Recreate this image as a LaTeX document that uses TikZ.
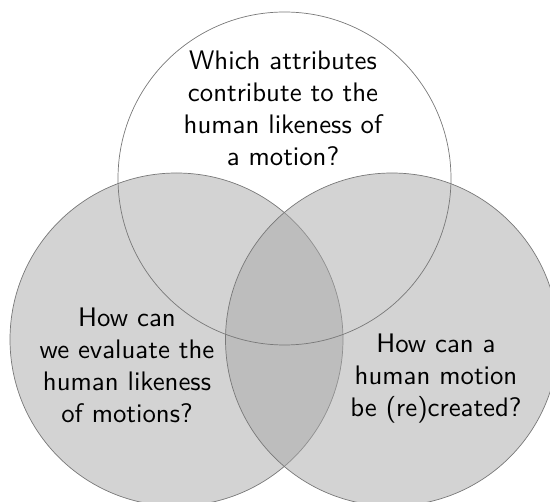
\documentclass[tikz,border=0pt]{standalone}
\usepackage{graphicx}
\newcommand{\qlines}[1]{\scalebox{2.68}{\sffamily\fontsize{10}{11.9}\selectfont\begin{tabular}{@{}c@{}}#1\end{tabular}}}
\begin{document}
\begin{tikzpicture}[x=1pt,y=-1pt,
  venn/.style={circle, draw={rgb,255:red,120;green,120;blue,120}, line width=0.7pt, minimum size=333pt, inner sep=0pt},
  vennfill/.style={venn, fill={rgb,255:red,167;green,167;blue,167}, fill opacity=0.5},
  qtext/.style={inner sep=0pt, text=black}]
\useasboundingbox (0,0) rectangle (550,502);
\node[vennfill] (left) at (176.5,339.5) {};
\node[vennfill] (right) at (392,339.5) {};
\node[venn] (top) at (284.5,178.5) {};
\node[qtext] (ttop) at (283,111) {\qlines{Which attributes\\contribute to the\\human likeness of\\a motion?}};
\node[qtext] (tleft) at (127,368) {\qlines{How can\\we evaluate the\\human likeness\\of motions?}};
\node[qtext] (tright) at (436,378) {\qlines{How can a\\human motion\\be (re)created?}};
\end{tikzpicture}
\end{document}
